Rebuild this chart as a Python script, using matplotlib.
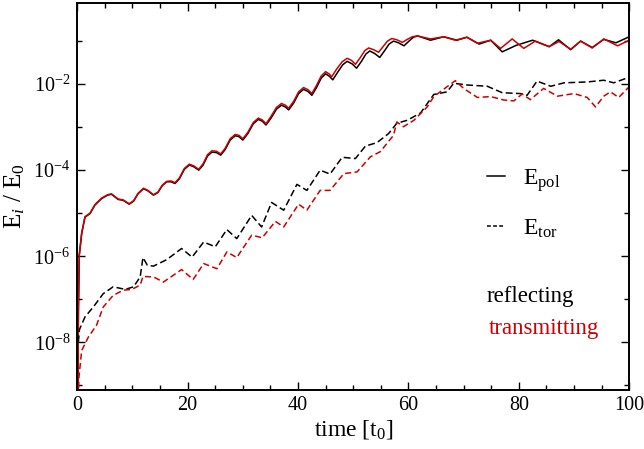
import numpy as np
import matplotlib
matplotlib.use("Agg")
import matplotlib.pyplot as plt
from matplotlib.lines import Line2D
from matplotlib.ticker import FixedLocator, LogFormatterSciNotation, MultipleLocator, NullFormatter

RED = "#cc0000"
BLK = "#000000"

# --- data (log10 of E_i/E_0) ---
t_pol_refl = [0.1, 0.2, 0.36, 0.8, 1.4, 2.3, 3.2, 4.4, 5.5, 6.2, 7.4, 8.3,
              9.4, 10.2, 11.0, 12.0, 12.8, 13.8, 14.6, 15.4, 16.2, 17.0, 17.7, 18.5, 19.4,
              20.3, 21.1, 22.0, 22.8, 23.6, 24.4, 25.2, 26.0, 26.8, 27.7, 28.6, 29.3, 30.0,
              30.9, 31.9, 32.8, 33.5, 34.2, 35.1, 36.1, 37.0, 37.7, 38.3, 39.2, 40.1, 41.0,
              41.8, 42.5, 43.3, 44.2, 45.0, 45.7, 46.3, 47.2, 48.1, 48.9, 49.8, 50.6, 51.5,
              52.3, 53.0, 53.9, 54.8, 55.7, 56.5, 57.3, 58.2, 59.2, 60.1, 60.9, 61.7,
              64.0, 66.4, 68.8, 70.6, 72.8, 74.9, 77.0, 79.5, 82.5, 85.5, 87.2, 89.4, 91.2,
              93.3, 95.4, 97.6, 100.0]
lg_pol_refl = [-9.5, -7.3, -5.98, -5.47, -5.09, -5.01, -4.81, -4.66, -4.58, -4.56, -4.68, -4.70,
               -4.79, -4.72, -4.55, -4.43, -4.48, -4.58, -4.52, -4.36, -4.27, -4.27, -4.31, -4.20,
               -3.98, -3.88, -3.92, -4.00, -3.88, -3.67, -3.58, -3.59, -3.65, -3.52, -3.30, -3.20,
               -3.22, -3.30, -3.15, -2.92, -2.82, -2.86, -2.95, -2.79, -2.58, -2.49, -2.53, -2.60,
               -2.44, -2.22, -2.12, -2.17, -2.26, -2.09, -1.86, -1.76, -1.82, -1.90, -1.72, -1.55,
               -1.47, -1.53, -1.63, -1.47, -1.30, -1.23, -1.29, -1.38, -1.22, -1.07, -1.00, -1.04,
               -1.11, -1.00, -0.91, -0.88,
               -0.98, -0.90, -0.98, -0.91, -1.07, -0.98, -1.25, -1.10, -0.98, -1.13, -0.97, -1.20,
               -1.00, -1.15, -0.96, -1.04, -0.90]

t_pol_trans = [0.1, 0.2, 0.36, 0.8, 1.4, 2.3, 3.2, 4.4, 5.5, 6.2, 7.4, 8.3,
               9.4, 10.2, 11.0, 12.0, 12.8, 13.8, 14.6, 15.4, 16.2, 17.0, 17.7, 18.5, 19.4,
               20.3, 21.1, 22.0, 22.8, 23.6, 24.4, 25.2, 26.0, 26.8, 27.7, 28.6, 29.3, 30.0,
               30.9, 31.9, 32.8, 33.5, 34.2, 35.1, 36.1, 37.0, 37.7, 38.3, 39.2, 40.1, 41.0,
               41.8, 42.5, 43.3, 44.2, 45.0, 45.6, 46.1, 47.0, 48.0, 48.9, 49.7, 50.4, 51.3,
               52.1, 52.8, 53.7, 54.6, 55.4, 56.2, 57.0, 57.9, 58.9, 59.8, 60.7, 61.6,
               64.0, 66.4, 68.5, 70.6, 72.5, 74.9, 76.7, 78.8, 80.9, 83.0, 85.5, 87.3, 89.4,
               91.2, 93.3, 95.4, 97.9, 100.0]
lg_pol_trans = [-9.5, -7.3, -5.97, -5.46, -5.08, -5.00, -4.80, -4.65, -4.57, -4.55, -4.67, -4.69,
                -4.78, -4.71, -4.54, -4.42, -4.47, -4.57, -4.51, -4.35, -4.26, -4.25, -4.29, -4.18,
                -3.96, -3.86, -3.90, -3.98, -3.85, -3.64, -3.55, -3.56, -3.62, -3.49, -3.27, -3.17,
                -3.19, -3.27, -3.12, -2.89, -2.79, -2.83, -2.92, -2.75, -2.54, -2.45, -2.49, -2.56,
                -2.40, -2.18, -2.08, -2.13, -2.22, -2.04, -1.81, -1.71, -1.76, -1.83, -1.65, -1.48,
                -1.40, -1.45, -1.54, -1.38, -1.22, -1.16, -1.20, -1.26, -1.13, -1.00, -0.94, -0.97,
                -1.03, -0.96, -0.90, -0.88,
                -0.95, -0.90, -0.98, -0.91, -1.05, -0.98, -1.17, -0.95, -1.17, -1.00, -1.13, -1.01,
                -1.19, -1.00, -1.16, -0.95, -1.11, -0.98]

t_tor_refl = [0.2, 0.4, 1.4, 2.9, 4.7, 6.5, 8.7, 10.2, 11.4, 11.9, 12.7, 13.8, 16.2, 18.9, 20.8,
              22.9, 25.0, 27.1, 28.9, 31.6, 33.4, 35.2, 37.4, 39.8, 41.6, 44.0, 45.8, 48.0,
              50.4, 52.2, 54.3, 56.4, 57.9, 59.8, 62.2, 64.6, 67.0, 68.2, 70.6, 74.3, 77.0,
              80.3, 81.5, 83.3, 85.8, 88.2, 92.4, 95.4, 97.2, 100.0]
lg_tor_refl = [-8.0, -7.7, -7.41, -7.18, -6.87, -6.71, -6.77, -6.71, -6.48, -6.03, -6.21, -6.23,
               -6.08, -5.82, -6.02, -5.67, -5.78, -5.38, -5.59, -5.05, -5.32, -4.75, -4.93, -4.33,
               -4.47, -4.00, -4.09, -3.70, -3.73, -3.44, -3.36, -3.15, -2.91, -2.84, -2.67, -2.24,
               -2.18, -1.98, -2.02, -2.05, -2.20, -2.22, -2.26, -1.93, -2.05, -1.97, -1.95, -1.91,
               -1.97, -1.84]

t_tor_trans = [0.15, 0.3, 0.8, 2.0, 3.5, 4.7, 6.5, 8.3, 9.9, 11.4, 11.9, 13.8, 15.6, 18.9, 21.0,
               22.9, 25.3, 27.1, 28.9, 31.6, 33.5, 35.9, 37.4, 40.1, 41.6, 44.0, 45.8, 48.3,
               50.7, 53.1, 54.9, 57.3, 57.9, 59.1, 61.0, 63.4, 64.6, 67.0, 68.5, 70.0, 72.5,
               74.9, 77.3, 79.1, 80.6, 82.1, 84.5, 87.0, 90.0, 92.4, 93.9, 95.4, 96.6, 98.1, 100.0]
lg_tor_trans = [-9.5, -8.81, -8.19, -7.88, -7.60, -7.18, -6.91, -6.79, -6.77, -6.67, -6.47, -6.48,
                -6.60, -6.31, -6.54, -6.17, -6.29, -5.90, -6.03, -5.51, -5.57, -5.19, -5.32, -4.79,
                -4.93, -4.47, -4.47, -4.08, -4.04, -3.69, -3.57, -3.19, -2.88, -2.99, -2.84, -2.53,
                -2.29, -2.06, -1.92, -2.10, -2.31, -2.29, -2.37, -2.39, -2.23, -2.36, -2.10, -2.28,
                -2.22, -2.31, -2.53, -2.28, -2.18, -2.31, -2.06]

plt.rcParams.update({
    "font.family": "Liberation Serif",
    "mathtext.fontset": "custom",
    "mathtext.rm": "Liberation Serif",
    "mathtext.it": "Liberation Serif:italic",
    "mathtext.bf": "Liberation Serif:bold",
})

fig = plt.figure(figsize=(6.44, 4.49), dpi=100)
ax = fig.add_axes([0.12, 0.1325, 0.857, 0.8615])

lw = 1.1
ax.semilogy(t_pol_refl, 10.0 ** np.array(lg_pol_refl), color=BLK, lw=lw)
ax.semilogy(t_pol_trans, 10.0 ** np.array(lg_pol_trans), color=RED, lw=lw)
ax.semilogy(t_tor_refl, 10.0 ** np.array(lg_tor_refl), color=BLK, lw=lw, dashes=(4.5, 2.2))
ax.semilogy(t_tor_trans, 10.0 ** np.array(lg_tor_trans), color=RED, lw=lw, dashes=(4.0, 2.2))

ax.set_xlim(0, 100)
ax.set_ylim(8.0e-10, 0.78)

ax.xaxis.set_major_locator(MultipleLocator(20))
ax.xaxis.set_minor_locator(MultipleLocator(5))
ax.yaxis.set_major_locator(FixedLocator(10.0 ** np.arange(-8, 0, 2)))
ax.yaxis.set_major_formatter(LogFormatterSciNotation())
ax.yaxis.set_minor_locator(FixedLocator(10.0 ** np.arange(-9, 0, 2)))
ax.yaxis.set_minor_formatter(NullFormatter())

ax.tick_params(which="both", direction="in", top=True, right=True, width=1.0, labelsize=14.5)
ax.tick_params(which="major", length=6, pad=5)
ax.tick_params(which="minor", length=3.5)
for s in ax.spines.values():
    s.set_linewidth(1.4)

ax.set_xlabel(r"time [t$_0$]", fontsize=17, labelpad=2)
ax.set_ylabel(r"$\mathrm{E}_{i}$ / $\mathrm{E}_{0}$", fontsize=18)
ax.yaxis.set_label_coords(-0.092, 0.5)

handles = [Line2D([], [], color=BLK, lw=lw),
           Line2D([], [], color=BLK, lw=lw, dashes=(2.5, 1.5))]
ax.legend(handles, [r"$\mathrm{E}_{\mathrm{pol}}$", r"$\mathrm{E}_{\mathrm{tor}}$"],
          loc="upper left", bbox_to_anchor=(0.743, 0.575), frameon=False, fontsize=17,
          handlelength=0.75, handletextpad=0.75, labelspacing=1.0, borderpad=0, borderaxespad=0)

ax.text(0.742, 0.227, "reflecting", transform=ax.transAxes, fontsize=16.5, color=BLK)
ax.text(0.745, 0.1435, "transmitting", transform=ax.transAxes, fontsize=16.5, color=RED)

fig.savefig("out.png", dpi=100)
